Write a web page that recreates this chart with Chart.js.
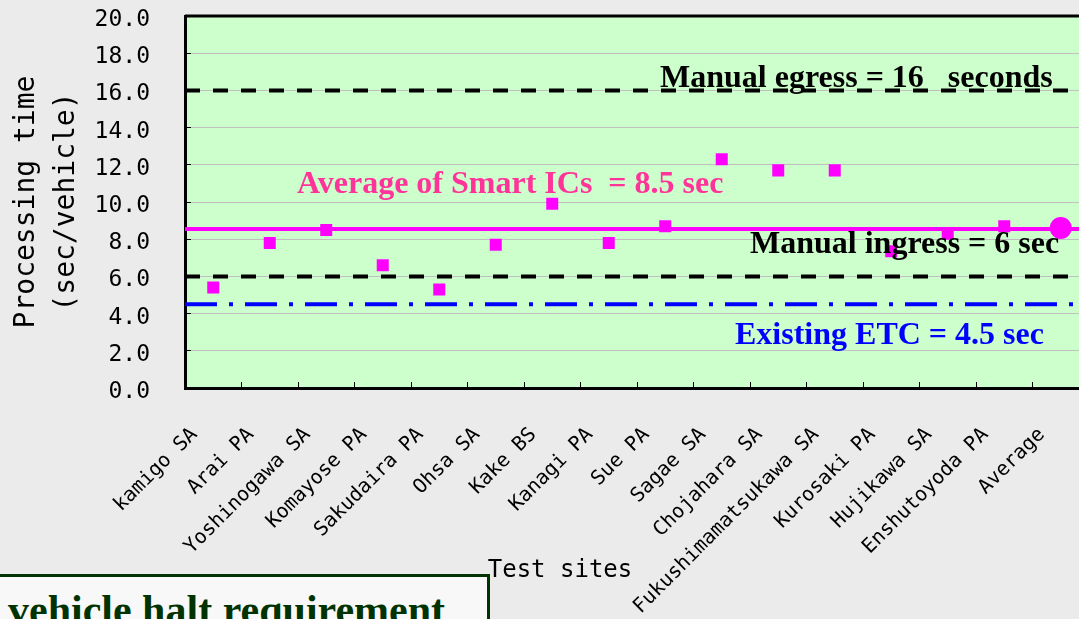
<!DOCTYPE html>
<html>
<head>
<meta charset="utf-8">
<script src="https://cdn.jsdelivr.net/npm/chart.js@4.4.1/dist/chart.umd.min.js"></script>
<style>
  html, body { margin: 0; padding: 0; width: 1079px; height: 619px; overflow: hidden; background: #ebebeb; }
  #wrap { position: absolute; left: 0; top: 0; width: 1100px; height: 619px; }
  #note { position: absolute; left: -10px; top: 574px; width: 500px; height: 90px; box-sizing: border-box;
          background: #f8f8f8; border: 3px solid #003300; }
  #note span { position: absolute; left: 15px; top: 9px; line-height: 42px; white-space: nowrap;
               font: bold 42px "Liberation Serif", serif; color: #003300; }
</style>
</head>
<body>
<div id="wrap"><canvas id="chart" width="1100" height="619"></canvas></div>
<div id="note"><span>vehicle halt requirement</span></div>
<script>
// test sites along the x axis
const sites = [
  'kamigo SA', 'Arai PA', 'Yoshinogawa SA', 'Komayose PA', 'Sakudaira PA', 'Ohsa SA',
  'Kake BS', 'Kanagi PA', 'Sue PA', 'Sagae SA', 'Chojahara SA', 'Fukushimamatsukawa SA',
  'Kurosaki PA', 'Hujikawa SA', 'Enshutoyoda PA', 'Average'
];
// processing time per site (sec/vehicle)
const siteTimes = [5.4, 7.8, 8.5, 6.6, 5.3, 7.7, 9.9, 7.8, 8.7, 12.3, 11.7, 11.7, 7.35, 8.3, 8.7, null];
const averagePoint = [null, null, null, null, null, null, null, null, null, null, null, null, null, null, null, 8.6];

// reference levels
const smartIcAverage = 8.55;
const manualEgress = 16;
const manualIngress = 6;
const existingEtc = 4.5;

const refLine = v => [{ x: 0, y: v }, { x: 1, y: v }];

Chart.defaults.font.family = '"DejaVu Sans Mono", monospace';
Chart.defaults.color = '#000';

const plotFrame = {
  id: 'plotFrame',
  beforeDraw(chart) {
    const { ctx, chartArea: a } = chart;
    ctx.save();
    ctx.fillStyle = '#ccffcc';
    ctx.fillRect(a.left, a.top, a.right - a.left, a.bottom - a.top);
    ctx.restore();
  },
  afterDatasetsDraw(chart) {
    const { ctx } = chart;
    ctx.save();
    ctx.font = 'bold 32px "Liberation Serif", serif';
    ctx.fillStyle = '#000';
    ctx.fillText('Manual egress = 16   seconds', 660, 87);
    ctx.fillText('Manual ingress = 6 sec', 750, 253);
    ctx.fillStyle = '#ff3399';
    ctx.fillText('Average of Smart ICs  = 8.5 sec', 297, 193);
    ctx.fillStyle = '#0000ff';
    ctx.fillText('Existing ETC = 4.5 sec', 735, 344);
    ctx.restore();
  },
  afterDraw(chart) {
    const { ctx, chartArea: a } = chart;
    ctx.save();
    ctx.strokeStyle = '#000';
    ctx.lineWidth = 3;
    ctx.beginPath();
    ctx.moveTo(a.left, a.top);
    ctx.lineTo(a.right, a.top);
    ctx.stroke();
    ctx.font = '24px "DejaVu Sans Mono", monospace';
    ctx.fillStyle = '#000';
    ctx.textAlign = 'center';
    ctx.fillText('Test sites', 560, 577);
    ctx.restore();
  }
};

new Chart(document.getElementById('chart'), {
  type: 'line',
  data: {
    labels: sites,
    datasets: [
      {
        data: siteTimes, showLine: false, order: 0,
        pointStyle: 'rect', pointRadius: 8.5, pointBorderWidth: 0,
        pointBackgroundColor: '#ff00ff', pointBorderColor: '#ff00ff'
      },
      {
        data: averagePoint, showLine: false, order: 0,
        pointStyle: 'circle', pointRadius: 11, pointBorderWidth: 0,
        pointBackgroundColor: '#ff00ff', pointBorderColor: '#ff00ff'
      },
      { data: refLine(smartIcAverage), xAxisID: 'xFull', order: 2, borderColor: '#ff00ff', borderWidth: 4, pointRadius: 0 },
      { data: refLine(manualEgress), xAxisID: 'xFull', order: 1, borderColor: '#000', borderWidth: 4, borderDash: [15, 13], pointRadius: 0 },
      { data: refLine(manualIngress), xAxisID: 'xFull', order: 1, borderColor: '#000', borderWidth: 4, borderDash: [15, 13], pointRadius: 0 },
      { data: refLine(existingEtc), xAxisID: 'xFull', order: 1, borderColor: '#0000ff', borderWidth: 4, borderDash: [32, 12, 4, 12], pointRadius: 0 }
    ]
  },
  options: {
    responsive: false,
    animation: false,
    devicePixelRatio: 1,
    layout: { padding: { top: 16, right: 7, left: 0, bottom: 0 } },
    plugins: { legend: { display: false }, tooltip: { enabled: false } },
    scales: {
      x: {
        offset: true,
        grid: { offset: true, drawOnChartArea: false, tickLength: -6, color: '#000', tickColor: '#000' },
        border: { color: '#000', width: 3 },
        ticks: { autoSkip: false, maxRotation: 45, minRotation: 45, padding: 41, labelOffset: -19, font: { size: 20 } },
        afterFit(scale) { scale.height = 231; scale.paddingLeft = 0; scale.paddingRight = 0; }
      },
      xFull: { type: 'linear', position: 'bottom', min: 0, max: 1, display: false },
      y: {
        min: 0, max: 20,
        ticks: { stepSize: 2, padding: 41, labelOffset: 4, font: { size: 23 }, callback: v => v.toFixed(1) },
        grid: { color: '#c0c0c0', lineWidth: 1, tickLength: -6, tickColor: '#000' },
        border: { color: '#000', width: 3 },
        title: {
          display: true, text: ['Processing time', '(sec/vehicle)'],
          font: { size: 28, lineHeight: 40 / 28 }, padding: { top: 7, bottom: 0 }
        },
        afterFit(scale) { scale.width = 185; scale.paddingTop = 0; scale.paddingBottom = 0; }
      }
    }
  },
  plugins: [plotFrame]
});
</script>
</body>
</html>
